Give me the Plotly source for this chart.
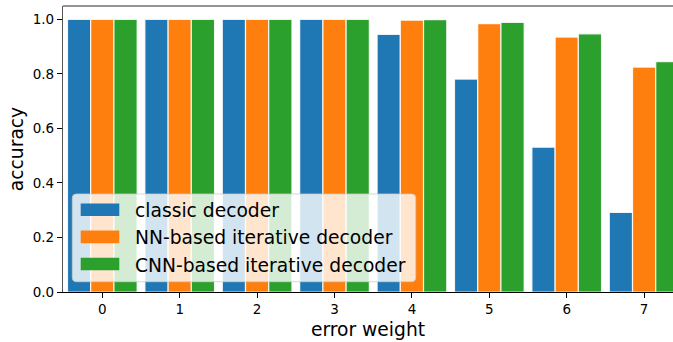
import plotly.graph_objects as go

categories = [0, 1, 2, 3, 4, 5, 6, 7]
classic = [1.0, 1.0, 1.0, 1.0, 0.945, 0.781, 0.531, 0.292]
nn_iter = [1.0, 1.0, 1.0, 1.0, 0.997, 0.984, 0.935, 0.825]
cnn_iter = [1.0, 1.0, 1.0, 1.0, 0.999, 0.989, 0.947, 0.845]
series_names = ["classic decoder", "NN-based iterative decoder", "CNN-based iterative decoder"]
colors = ["#1f77b4", "#ff7f0e", "#2ca02c"]
y_ticks = [0.0, 0.2, 0.4, 0.6, 0.8, 1.0]

W, H = 673, 342
L, R, T, B = 63, 0, 6, 50
pw, ph = W - L - R, H - T - B


def px(xp):
    return (xp - L) / pw


def py(yp):
    return (H - B - yp) / ph


FONT = "DejaVu Sans"
fig = go.Figure()
for name, vals, c in zip(series_names, [classic, nn_iter, cnn_iter], colors):
    fig.add_trace(go.Bar(x=categories, y=vals, name=name, marker=dict(color=c, line=dict(color="rgba(255,255,255,0.85)", width=1.2)),
                         showlegend=False, hoverinfo="skip"))

shapes = []
# top spine
shapes.append(dict(type="line", xref="paper", yref="paper", x0=0, x1=1, y0=1, y1=1,
                   line=dict(color="#707070", width=1.5), layer="above"))
# legend box with rounded corners
x0, x1, y0, y1 = px(72.3), px(415.7), py(281.7), py(194)
rx, ry = 4 / pw, 4 / ph
path = (f"M{x0+rx},{y0} L{x1-rx},{y0} Q{x1},{y0} {x1},{y0+ry} L{x1},{y1-ry} Q{x1},{y1} {x1-rx},{y1} "
        f"L{x0+rx},{y1} Q{x0},{y1} {x0},{y1-ry} L{x0},{y0+ry} Q{x0},{y0} {x0+rx},{y0} Z")
shapes.append(dict(type="path", xref="paper", yref="paper", path=path,
                   fillcolor="rgba(255,255,255,0.8)", line=dict(color="rgba(204,204,204,0.8)", width=1), layer="above"))
annotations = []
row_centers = [209.7, 236.9, 264.0]
for name, c, yc in zip(series_names, colors, row_centers):
    shapes.append(dict(type="rect", xref="paper", yref="paper", x0=px(80.7), x1=px(119.3),
                       y0=py(yc + 6.3), y1=py(yc - 6.3), fillcolor=c, line=dict(width=0), layer="above"))
    annotations.append(dict(xref="paper", yref="paper", x=px(132.5), y=py(yc + 1), text=name, showarrow=False,
                            xanchor="left", yanchor="middle", font=dict(family=FONT, size=18.7, color="#000")))

fig.update_layout(
    width=W, height=H, autosize=False,
    margin=dict(l=L, r=R, t=T, b=B),
    paper_bgcolor="white", plot_bgcolor="white",
    barmode="group", bargap=0.1, bargroupgap=0,
    font=dict(family=FONT, color="#000"),
    shapes=shapes, annotations=annotations,
    xaxis=dict(range=[-0.508, 7.373], tickmode="array", tickvals=categories, ticktext=[str(c) for c in categories],
               showgrid=False, zeroline=False, showline=True, linecolor="#000", linewidth=1.3,
               ticks="outside", ticklen=5, tickwidth=1.1, tickcolor="#000",
               tickfont=dict(family=FONT, size=13.5, color="#000"),
               title=dict(text="error weight", font=dict(family=FONT, size=18.7, color="#000"), standoff=6)),
    yaxis=dict(range=[0, 1.049], tickmode="array", tickvals=y_ticks, ticktext=[f"{v:.1f}" for v in y_ticks],
               showgrid=False, zeroline=False, showline=True, linecolor="#555", linewidth=1.3,
               ticks="outside", ticklen=5, tickwidth=1.1, tickcolor="#000",
               tickfont=dict(family=FONT, size=13.5, color="#000"),
               title=dict(text="accuracy", font=dict(family=FONT, size=18.7, color="#000"), standoff=4)),
)
fig.write_html("out.html", config={"displayModeBar": False},
               post_script="document.body.style.margin='0';document.body.style.overflow='hidden';")
